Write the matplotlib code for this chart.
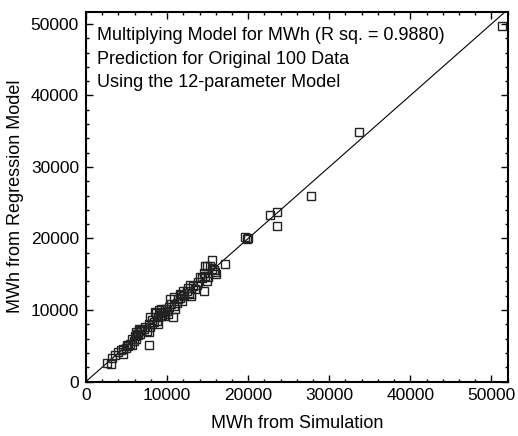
import matplotlib
matplotlib.use("Agg")
import matplotlib.pyplot as plt
from matplotlib.ticker import MultipleLocator

plt.rcParams['font.family'] = ['Liberation Sans', 'DejaVu Sans']

# MWh from simulation vs MWh from the regression model
sim_mwh = [51300, 33650, 27800, 23500, 23550, 22700, 19600, 19900, 20000, 17100,
           15550, 14700, 14900, 15250, 15900, 16050, 14700, 14900, 14600, 14300,
           13650, 13200, 12850, 13000, 12700, 11950, 11700, 11550, 11800, 10400,
           10900, 11000, 10700, 9950, 9550, 9200, 8850, 8650, 9000, 8550,
           8400, 7950, 7800, 7780, 7780, 7300, 6650, 6500, 6400, 6150,
           5900, 5650, 5150, 4550, 4300, 4600, 3200, 3100, 2600, 6000,
           6300, 6600, 6800, 5700, 5400, 5000, 4900, 6200, 7100, 7500,
           7900, 8200, 8100, 8700, 9100, 9400, 9300, 9700, 10100, 10200,
           10500, 11200, 11400, 11600, 12100, 12400, 12600, 13400, 13800, 14100,
           14500, 15000, 15600, 15800, 4000, 3600, 8900, 9600, 10800, 12900]
reg_mwh = [49700, 34900, 25900, 21700, 23650, 23350, 20150, 19900, 20000, 16500,
           16950, 16100, 16100, 16150, 15300, 15100, 14700, 14100, 12700, 14500,
           13500, 13300, 13500, 12000, 12400, 12600, 12100, 11700, 11200, 11500,
           10600, 10100, 8950, 9900, 9700, 9300, 8950, 9550, 10000, 9700,
           8350, 9050, 8000, 6950, 5150, 7650, 7200, 7400, 6500, 6000,
           5600, 5050, 4900, 4500, 4350, 3850, 3250, 2400, 2600, 6300,
           6700, 6600, 7000, 5900, 5200, 5100, 4700, 6900, 7300, 7100,
           7600, 8100, 8600, 8400, 9600, 9200, 10100, 10200, 9400, 10400,
           10800, 11000, 11500, 12300, 12000, 12700, 13100, 13000, 13900, 14600,
           15200, 14600, 15800, 15600, 4100, 3700, 8000, 9100, 11800, 12300]

info_lines = ["Multiplying Model for MWh (R sq. = 0.9880)",
              "Prediction for Original 100 Data",
              "Using the 12-parameter Model"]

fig = plt.figure(figsize=(5.18, 4.36), dpi=100)
ax = fig.add_axes([0.166, 0.125, 0.814, 0.848])

lim = 52000
ax.plot([0, lim], [0, lim], color='black', linewidth=0.8)
ax.plot(sim_mwh, reg_mwh, linestyle='none', marker='s', markersize=6,
        markerfacecolor='none', markeredgecolor='#222222', markeredgewidth=1.0)

ax.set_xlim(0, lim)
ax.set_ylim(0, 51700)
ax.xaxis.set_major_locator(MultipleLocator(10000))
ax.yaxis.set_major_locator(MultipleLocator(10000))
ax.xaxis.set_minor_locator(MultipleLocator(2000))
ax.yaxis.set_minor_locator(MultipleLocator(2000))
ax.tick_params(which='both', direction='in', top=True, right=True,
               labelsize=12.5, width=1, pad=5)
ax.tick_params(which='major', length=5)
ax.tick_params(which='minor', length=2.5)
for sp in ax.spines.values():
    sp.set_linewidth(1.5)

ax.set_xlabel("MWh from Simulation", fontsize=13, labelpad=8)
ax.set_ylabel("MWh from Regression Model", fontsize=13, labelpad=5)

for line, ypos in zip(info_lines, [0.937, 0.872, 0.810]):
    ax.text(0.025, ypos, line, transform=ax.transAxes,
            fontsize=13, va='center', ha='left')

fig.savefig("out.png", dpi=100)
